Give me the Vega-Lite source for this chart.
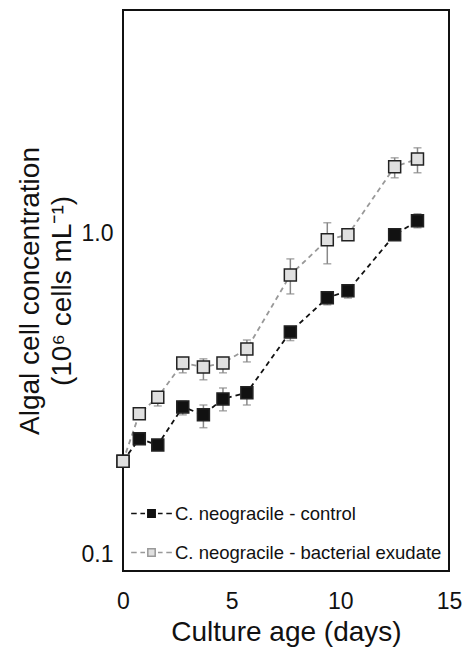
{
  "$schema": "https://vega.github.io/schema/vega-lite/v6.json",
  "width": 326,
  "height": 561,
  "autosize": {"type": "none"},
  "padding": {"left": 123, "top": 10, "right": 16, "bottom": 77},
  "config": {
    "view": {"stroke": "#111", "strokeWidth": 2},
    "font": "Liberation Sans",
    "axis": {
      "grid": false, "ticks": false, "domain": false,
      "labelFont": "Liberation Sans", "titleFont": "Liberation Sans",
      "labelColor": "#111", "titleColor": "#111",
      "labelFontSize": 23, "titleFontSize": 28, "titleFontWeight": "normal",
      "labelFlush": false, "labelOverlap": false
    }
  },
  "data": {
    "values": [
      {"series": "C. neogracile - control", "day": 0, "conc": 0.195, "lo": 0.195, "hi": 0.195},
      {"series": "C. neogracile - control", "day": 0.75, "conc": 0.229, "lo": 0.224, "hi": 0.234},
      {"series": "C. neogracile - control", "day": 1.6, "conc": 0.219, "lo": 0.214, "hi": 0.224},
      {"series": "C. neogracile - control", "day": 2.75, "conc": 0.288, "lo": 0.272, "hi": 0.3},
      {"series": "C. neogracile - control", "day": 3.7, "conc": 0.272, "lo": 0.248, "hi": 0.292},
      {"series": "C. neogracile - control", "day": 4.6, "conc": 0.305, "lo": 0.28, "hi": 0.33},
      {"series": "C. neogracile - control", "day": 5.7, "conc": 0.319, "lo": 0.292, "hi": 0.325},
      {"series": "C. neogracile - control", "day": 7.7, "conc": 0.494, "lo": 0.464, "hi": 0.51},
      {"series": "C. neogracile - control", "day": 9.4, "conc": 0.631, "lo": 0.6, "hi": 0.65},
      {"series": "C. neogracile - control", "day": 10.35, "conc": 0.664, "lo": 0.63, "hi": 0.68},
      {"series": "C. neogracile - control", "day": 12.5, "conc": 0.993, "lo": 0.97, "hi": 1.01},
      {"series": "C. neogracile - control", "day": 13.55, "conc": 1.098, "lo": 1.044, "hi": 1.155},
      {"series": "C. neogracile - bacterial exudate", "day": 0, "conc": 0.195, "lo": 0.195, "hi": 0.195},
      {"series": "C. neogracile - bacterial exudate", "day": 0.75, "conc": 0.274, "lo": 0.268, "hi": 0.28},
      {"series": "C. neogracile - bacterial exudate", "day": 1.6, "conc": 0.309, "lo": 0.29, "hi": 0.318},
      {"series": "C. neogracile - bacterial exudate", "day": 2.75, "conc": 0.395, "lo": 0.368, "hi": 0.4},
      {"series": "C. neogracile - bacterial exudate", "day": 3.7, "conc": 0.384, "lo": 0.35, "hi": 0.407},
      {"series": "C. neogracile - bacterial exudate", "day": 4.6, "conc": 0.395, "lo": 0.368, "hi": 0.41},
      {"series": "C. neogracile - bacterial exudate", "day": 5.7, "conc": 0.437, "lo": 0.398, "hi": 0.466},
      {"series": "C. neogracile - bacterial exudate", "day": 7.7, "conc": 0.744, "lo": 0.649, "hi": 0.835},
      {"series": "C. neogracile - bacterial exudate", "day": 9.4, "conc": 0.958, "lo": 0.806, "hi": 1.083},
      {"series": "C. neogracile - bacterial exudate", "day": 10.35, "conc": 0.993, "lo": 0.975, "hi": 1.01},
      {"series": "C. neogracile - bacterial exudate", "day": 12.5, "conc": 1.619, "lo": 1.496, "hi": 1.727},
      {"series": "C. neogracile - bacterial exudate", "day": 13.55, "conc": 1.714, "lo": 1.551, "hi": 1.856}
    ]
  },
  "layer": [
    {
      "mark": {"type": "errorbar", "ticks": {"size": 8}, "color": "#888", "thickness": 1.5},
      "encoding": {
        "x": {"field": "day", "type": "quantitative", "scale": {"domain": [0, 15], "nice": false},
              "axis": {"values": [0, 5, 10, 15], "labelPadding": 19, "title": "Culture age (days)", "titlePadding": 5}},
        "y": {"field": "lo", "type": "quantitative", "scale": {"type": "log", "domain": [0.0885, 5], "nice": false},
              "axis": {"values": [0.1, 1], "format": ".1f", "labelPadding": 10,
                       "title": ["Algal cell concentration", "(10⁶ cells mL⁻¹)"], "titlePadding": 5, "titleLineHeight": 32}},
        "y2": {"field": "hi"}
      }
    },
    {
      "mark": {"type": "line", "strokeDash": [5, 4], "strokeWidth": 1.8},
      "encoding": {
        "x": {"field": "day", "type": "quantitative"},
        "y": {"field": "conc", "type": "quantitative"},
        "stroke": {
          "field": "series", "type": "nominal",
          "scale": {"domain": ["C. neogracile - control", "C. neogracile - bacterial exudate"], "range": ["#111", "#999"]},
          "legend": {
            "orient": "bottom-left", "title": null, "labelFontSize": 18.5, "labelFont": "Liberation Sans", "labelColor": "#111", "labelLimit": 400,
            "symbolType": "M-1.1,0H-0.8M-0.6,0H-0.35M0.35,0H0.6M0.8,0H1.1M-0.2,-0.2H0.2V0.2H-0.2Z",
            "symbolSize": 1369, "symbolStrokeWidth": 1.5, "symbolDash": [], "rowPadding": 10, "labelOffset": 4, "offset": 0, "padding": 9
          }
        }
      }
    },
    {
      "mark": {"type": "point", "shape": "square", "filled": true, "size": 144, "stroke": "#222", "strokeWidth": 1.5, "opacity": 1},
      "encoding": {
        "x": {"field": "day", "type": "quantitative"},
        "y": {"field": "conc", "type": "quantitative"},
        "fill": {
          "field": "series", "type": "nominal",
          "scale": {"domain": ["C. neogracile - control", "C. neogracile - bacterial exudate"], "range": ["#111", "#e0e0e0"]},
          "legend": {
            "orient": "bottom-left", "title": null, "labelFontSize": 18.5, "labelFont": "Liberation Sans", "labelColor": "#111", "labelLimit": 400,
            "symbolType": "M-1.1,0H-0.8M-0.6,0H-0.35M0.35,0H0.6M0.8,0H1.1M-0.2,-0.2H0.2V0.2H-0.2Z",
            "symbolSize": 1369, "symbolStrokeWidth": 1.5, "symbolDash": [], "rowPadding": 10, "labelOffset": 4, "offset": 0, "padding": 9
          }
        }
      }
    }
  ]
}
